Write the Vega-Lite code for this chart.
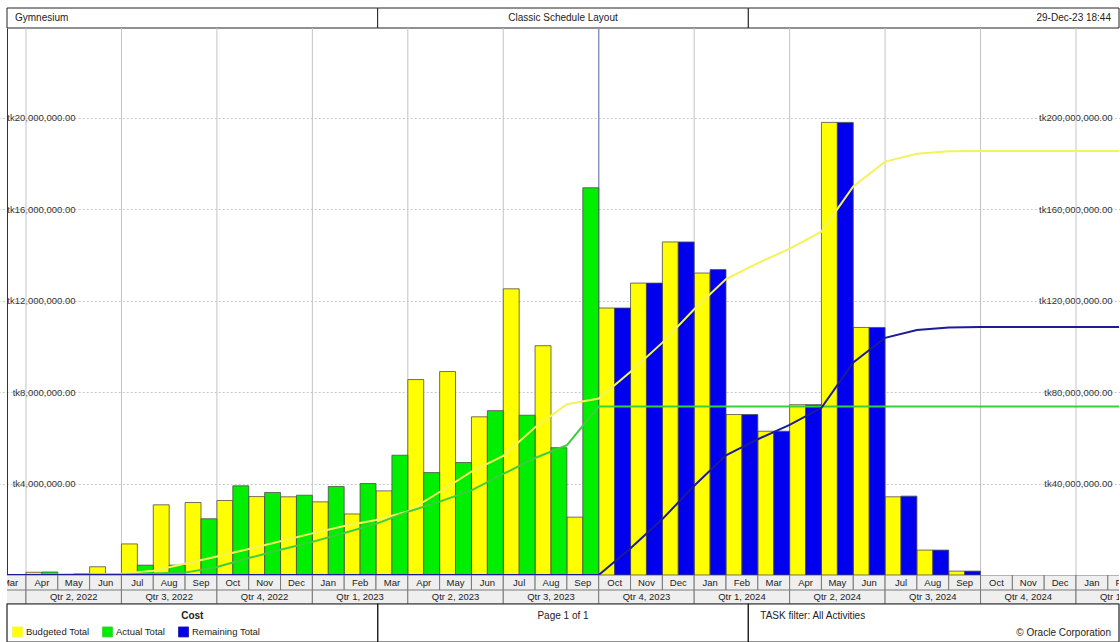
{
  "$schema": "https://vega.github.io/schema/vega-lite/v6.json",
  "padding": {"left": 6, "top": 7, "right": 0, "bottom": 0},
  "spacing": 0,
  "bounds": "flush",
  "config": {"font": "Liberation Sans", "view": {"stroke": null}, "concat": {"spacing": 0}},
  "datasets": {
    "cells": [
      {"pos": "L", "label": "Gymnesium"},
      {"pos": "C", "label": "Classic Schedule Layout"},
      {"pos": "R", "label": "29-Dec-23 18:44"}
    ],
    "footer": [
      {"pos": "L", "line": "1", "label": "Cost"},
      {"pos": "C", "line": "1", "label": "Page 1 of 1"},
      {"pos": "R", "line": "1", "label": "TASK filter: All Activities"},
      {"pos": "R", "line": "2", "label": "© Oracle Corporation"}
    ],
    "months": [
      {"month": "2022-03", "mon": "Mar"}, {"month": "2022-04", "mon": "Apr"}, {"month": "2022-05", "mon": "May"},
      {"month": "2022-06", "mon": "Jun"}, {"month": "2022-07", "mon": "Jul"}, {"month": "2022-08", "mon": "Aug"},
      {"month": "2022-09", "mon": "Sep"}, {"month": "2022-10", "mon": "Oct"}, {"month": "2022-11", "mon": "Nov"},
      {"month": "2022-12", "mon": "Dec"}, {"month": "2023-01", "mon": "Jan"}, {"month": "2023-02", "mon": "Feb"},
      {"month": "2023-03", "mon": "Mar"}, {"month": "2023-04", "mon": "Apr"}, {"month": "2023-05", "mon": "May"},
      {"month": "2023-06", "mon": "Jun"}, {"month": "2023-07", "mon": "Jul"}, {"month": "2023-08", "mon": "Aug"},
      {"month": "2023-09", "mon": "Sep"}, {"month": "2023-10", "mon": "Oct"}, {"month": "2023-11", "mon": "Nov"},
      {"month": "2023-12", "mon": "Dec"}, {"month": "2024-01", "mon": "Jan"}, {"month": "2024-02", "mon": "Feb"},
      {"month": "2024-03", "mon": "Mar"}, {"month": "2024-04", "mon": "Apr"}, {"month": "2024-05", "mon": "May"},
      {"month": "2024-06", "mon": "Jun"}, {"month": "2024-07", "mon": "Jul"}, {"month": "2024-08", "mon": "Aug"},
      {"month": "2024-09", "mon": "Sep"}, {"month": "2024-10", "mon": "Oct"}, {"month": "2024-11", "mon": "Nov"},
      {"month": "2024-12", "mon": "Dec"}, {"month": "2025-01", "mon": "Jan"}, {"month": "2025-02", "mon": "Feb"},
      {"month": "2025-03", "mon": "Mar"}
    ],
    "quarters": [
      {"q": "Qtr 1, 2022"}, {"q": "Qtr 2, 2022"}, {"q": "Qtr 3, 2022"}, {"q": "Qtr 4, 2022"},
      {"q": "Qtr 1, 2023"}, {"q": "Qtr 2, 2023"}, {"q": "Qtr 3, 2023"}, {"q": "Qtr 4, 2023"},
      {"q": "Qtr 1, 2024"}, {"q": "Qtr 2, 2024"}, {"q": "Qtr 3, 2024"}, {"q": "Qtr 4, 2024"},
      {"q": "Qtr 1, 2025"}
    ],
    "bars": [
      {"month": "2022-04", "bar": "Budgeted", "series": "Budgeted Total", "value": 120000},
      {"month": "2022-05", "bar": "Budgeted", "series": "Budgeted Total", "value": 20000},
      {"month": "2022-06", "bar": "Budgeted", "series": "Budgeted Total", "value": 360000},
      {"month": "2022-07", "bar": "Budgeted", "series": "Budgeted Total", "value": 1360000},
      {"month": "2022-08", "bar": "Budgeted", "series": "Budgeted Total", "value": 3070000},
      {"month": "2022-09", "bar": "Budgeted", "series": "Budgeted Total", "value": 3170000},
      {"month": "2022-10", "bar": "Budgeted", "series": "Budgeted Total", "value": 3260000},
      {"month": "2022-11", "bar": "Budgeted", "series": "Budgeted Total", "value": 3430000},
      {"month": "2022-12", "bar": "Budgeted", "series": "Budgeted Total", "value": 3420000},
      {"month": "2023-01", "bar": "Budgeted", "series": "Budgeted Total", "value": 3200000},
      {"month": "2023-02", "bar": "Budgeted", "series": "Budgeted Total", "value": 2670000},
      {"month": "2023-03", "bar": "Budgeted", "series": "Budgeted Total", "value": 3680000},
      {"month": "2023-04", "bar": "Budgeted", "series": "Budgeted Total", "value": 8550000},
      {"month": "2023-05", "bar": "Budgeted", "series": "Budgeted Total", "value": 8900000},
      {"month": "2023-06", "bar": "Budgeted", "series": "Budgeted Total", "value": 6920000},
      {"month": "2023-07", "bar": "Budgeted", "series": "Budgeted Total", "value": 12520000},
      {"month": "2023-08", "bar": "Budgeted", "series": "Budgeted Total", "value": 10030000},
      {"month": "2023-09", "bar": "Budgeted", "series": "Budgeted Total", "value": 2530000},
      {"month": "2023-10", "bar": "Budgeted", "series": "Budgeted Total", "value": 11680000},
      {"month": "2023-11", "bar": "Budgeted", "series": "Budgeted Total", "value": 12770000},
      {"month": "2023-12", "bar": "Budgeted", "series": "Budgeted Total", "value": 14570000},
      {"month": "2024-01", "bar": "Budgeted", "series": "Budgeted Total", "value": 13210000},
      {"month": "2024-02", "bar": "Budgeted", "series": "Budgeted Total", "value": 7020000},
      {"month": "2024-03", "bar": "Budgeted", "series": "Budgeted Total", "value": 6290000},
      {"month": "2024-04", "bar": "Budgeted", "series": "Budgeted Total", "value": 7450000},
      {"month": "2024-05", "bar": "Budgeted", "series": "Budgeted Total", "value": 19800000},
      {"month": "2024-06", "bar": "Budgeted", "series": "Budgeted Total", "value": 10830000},
      {"month": "2024-07", "bar": "Budgeted", "series": "Budgeted Total", "value": 3420000},
      {"month": "2024-08", "bar": "Budgeted", "series": "Budgeted Total", "value": 1090000},
      {"month": "2024-09", "bar": "Budgeted", "series": "Budgeted Total", "value": 170000},
      {"month": "2022-04", "bar": "At Completion", "series": "Actual Total", "value": 130000},
      {"month": "2022-05", "bar": "At Completion", "series": "Actual Total", "value": 50000},
      {"month": "2022-07", "bar": "At Completion", "series": "Actual Total", "value": 430000},
      {"month": "2022-08", "bar": "At Completion", "series": "Actual Total", "value": 430000},
      {"month": "2022-09", "bar": "At Completion", "series": "Actual Total", "value": 2460000},
      {"month": "2022-10", "bar": "At Completion", "series": "Actual Total", "value": 3900000},
      {"month": "2022-11", "bar": "At Completion", "series": "Actual Total", "value": 3610000},
      {"month": "2022-12", "bar": "At Completion", "series": "Actual Total", "value": 3490000},
      {"month": "2023-01", "bar": "At Completion", "series": "Actual Total", "value": 3870000},
      {"month": "2023-02", "bar": "At Completion", "series": "Actual Total", "value": 4000000},
      {"month": "2023-03", "bar": "At Completion", "series": "Actual Total", "value": 5240000},
      {"month": "2023-04", "bar": "At Completion", "series": "Actual Total", "value": 4480000},
      {"month": "2023-05", "bar": "At Completion", "series": "Actual Total", "value": 4920000},
      {"month": "2023-06", "bar": "At Completion", "series": "Actual Total", "value": 7190000},
      {"month": "2023-07", "bar": "At Completion", "series": "Actual Total", "value": 6990000},
      {"month": "2023-08", "bar": "At Completion", "series": "Actual Total", "value": 5570000},
      {"month": "2023-09", "bar": "At Completion", "series": "Actual Total", "value": 16940000},
      {"month": "2023-10", "bar": "At Completion", "series": "Remaining Total", "value": 11680000},
      {"month": "2023-11", "bar": "At Completion", "series": "Remaining Total", "value": 12770000},
      {"month": "2023-12", "bar": "At Completion", "series": "Remaining Total", "value": 14570000},
      {"month": "2024-01", "bar": "At Completion", "series": "Remaining Total", "value": 13360000},
      {"month": "2024-02", "bar": "At Completion", "series": "Remaining Total", "value": 7020000},
      {"month": "2024-03", "bar": "At Completion", "series": "Remaining Total", "value": 6290000},
      {"month": "2024-04", "bar": "At Completion", "series": "Remaining Total", "value": 7450000},
      {"month": "2024-05", "bar": "At Completion", "series": "Remaining Total", "value": 19800000},
      {"month": "2024-06", "bar": "At Completion", "series": "Remaining Total", "value": 10830000},
      {"month": "2024-07", "bar": "At Completion", "series": "Remaining Total", "value": 3450000},
      {"month": "2024-08", "bar": "At Completion", "series": "Remaining Total", "value": 1090000},
      {"month": "2024-09", "bar": "At Completion", "series": "Remaining Total", "value": 170000}
    ],
    "cumulative": [
      {"month": "2022-03", "series": "Budgeted Total", "cum": 0},
      {"month": "2022-04", "series": "Budgeted Total", "cum": 0},
      {"month": "2022-05", "series": "Budgeted Total", "cum": 120000},
      {"month": "2022-06", "series": "Budgeted Total", "cum": 140000},
      {"month": "2022-07", "series": "Budgeted Total", "cum": 500000},
      {"month": "2022-08", "series": "Budgeted Total", "cum": 1860000},
      {"month": "2022-09", "series": "Budgeted Total", "cum": 4930000},
      {"month": "2022-10", "series": "Budgeted Total", "cum": 8100000},
      {"month": "2022-11", "series": "Budgeted Total", "cum": 11360000},
      {"month": "2022-12", "series": "Budgeted Total", "cum": 14790000},
      {"month": "2023-01", "series": "Budgeted Total", "cum": 18210000},
      {"month": "2023-02", "series": "Budgeted Total", "cum": 21410000},
      {"month": "2023-03", "series": "Budgeted Total", "cum": 24080000},
      {"month": "2023-04", "series": "Budgeted Total", "cum": 27760000},
      {"month": "2023-05", "series": "Budgeted Total", "cum": 36310000},
      {"month": "2023-06", "series": "Budgeted Total", "cum": 45210000},
      {"month": "2023-07", "series": "Budgeted Total", "cum": 52130000},
      {"month": "2023-08", "series": "Budgeted Total", "cum": 64650000},
      {"month": "2023-09", "series": "Budgeted Total", "cum": 74680000},
      {"month": "2023-10", "series": "Budgeted Total", "cum": 77210000},
      {"month": "2023-11", "series": "Budgeted Total", "cum": 88890000},
      {"month": "2023-12", "series": "Budgeted Total", "cum": 101660000},
      {"month": "2024-01", "series": "Budgeted Total", "cum": 116230000},
      {"month": "2024-02", "series": "Budgeted Total", "cum": 129440000},
      {"month": "2024-03", "series": "Budgeted Total", "cum": 136460000},
      {"month": "2024-04", "series": "Budgeted Total", "cum": 142750000},
      {"month": "2024-05", "series": "Budgeted Total", "cum": 150200000},
      {"month": "2024-06", "series": "Budgeted Total", "cum": 170000000},
      {"month": "2024-07", "series": "Budgeted Total", "cum": 180830000},
      {"month": "2024-08", "series": "Budgeted Total", "cum": 184250000},
      {"month": "2024-09", "series": "Budgeted Total", "cum": 185340000},
      {"month": "2024-10", "series": "Budgeted Total", "cum": 185510000},
      {"month": "2025-03", "series": "Budgeted Total", "cum": 185510000},
      {"month": "2022-03", "series": "Actual Total", "cum": 0},
      {"month": "2022-04", "series": "Actual Total", "cum": 0},
      {"month": "2022-05", "series": "Actual Total", "cum": 130000},
      {"month": "2022-06", "series": "Actual Total", "cum": 180000},
      {"month": "2022-07", "series": "Actual Total", "cum": 180000},
      {"month": "2022-08", "series": "Actual Total", "cum": 610000},
      {"month": "2022-09", "series": "Actual Total", "cum": 1040000},
      {"month": "2022-10", "series": "Actual Total", "cum": 3500000},
      {"month": "2022-11", "series": "Actual Total", "cum": 7400000},
      {"month": "2022-12", "series": "Actual Total", "cum": 11010000},
      {"month": "2023-01", "series": "Actual Total", "cum": 14500000},
      {"month": "2023-02", "series": "Actual Total", "cum": 18370000},
      {"month": "2023-03", "series": "Actual Total", "cum": 22370000},
      {"month": "2023-04", "series": "Actual Total", "cum": 27610000},
      {"month": "2023-05", "series": "Actual Total", "cum": 32090000},
      {"month": "2023-06", "series": "Actual Total", "cum": 37010000},
      {"month": "2023-07", "series": "Actual Total", "cum": 44200000},
      {"month": "2023-08", "series": "Actual Total", "cum": 51190000},
      {"month": "2023-09", "series": "Actual Total", "cum": 56760000},
      {"month": "2023-10", "series": "Actual Total", "cum": 73700000},
      {"month": "2025-03", "series": "Actual Total", "cum": 73700000},
      {"month": "2022-03", "series": "Remaining Total", "cum": 0},
      {"month": "2023-10", "series": "Remaining Total", "cum": 0},
      {"month": "2023-11", "series": "Remaining Total", "cum": 11680000},
      {"month": "2023-12", "series": "Remaining Total", "cum": 24450000},
      {"month": "2024-01", "series": "Remaining Total", "cum": 39020000},
      {"month": "2024-02", "series": "Remaining Total", "cum": 52380000},
      {"month": "2024-03", "series": "Remaining Total", "cum": 59400000},
      {"month": "2024-04", "series": "Remaining Total", "cum": 65690000},
      {"month": "2024-05", "series": "Remaining Total", "cum": 73140000},
      {"month": "2024-06", "series": "Remaining Total", "cum": 92940000},
      {"month": "2024-07", "series": "Remaining Total", "cum": 103770000},
      {"month": "2024-08", "series": "Remaining Total", "cum": 107220000},
      {"month": "2024-09", "series": "Remaining Total", "cum": 108310000},
      {"month": "2024-10", "series": "Remaining Total", "cum": 108480000},
      {"month": "2025-03", "series": "Remaining Total", "cum": 108480000}
    ]
  },
  "resolve": {"scale": {"x": "independent", "y": "independent", "fill": "independent", "stroke": "independent"}},
  "vconcat": [
    {
      "width": 1112,
      "height": 20,
      "data": {"name": "cells"},
      "layer": [
        {
          "mark": {"type": "rect", "fill": "white", "stroke": "#222222", "strokeWidth": 1},
          "encoding": {"x": {"field": "pos", "type": "nominal", "scale": {"domain": ["L", "C", "R"], "paddingInner": 0, "paddingOuter": 0}, "axis": null}}
        },
        {
          "transform": [{"filter": "datum.pos == 'L'"}],
          "mark": {"type": "text", "align": "left", "dx": 8, "fontSize": 10, "color": "#222222"},
          "encoding": {"x": {"field": "pos", "type": "nominal", "bandPosition": 0, "scale": {"domain": ["L", "C", "R"], "paddingInner": 0, "paddingOuter": 0}, "axis": null}, "text": {"field": "label"}}
        },
        {
          "transform": [{"filter": "datum.pos == 'C'"}],
          "mark": {"type": "text", "align": "center", "fontSize": 10, "color": "#222222"},
          "encoding": {"x": {"field": "pos", "type": "nominal", "bandPosition": 0.5, "scale": {"domain": ["L", "C", "R"], "paddingInner": 0, "paddingOuter": 0}, "axis": null}, "text": {"field": "label"}}
        },
        {
          "transform": [{"filter": "datum.pos == 'R'"}],
          "mark": {"type": "text", "align": "right", "dx": -8, "fontSize": 10, "color": "#222222"},
          "encoding": {"x": {"field": "pos", "type": "nominal", "bandPosition": 1, "scale": {"domain": ["L", "C", "R"], "paddingInner": 0, "paddingOuter": 0}, "axis": null}, "text": {"field": "label"}}
        }
      ]
    },
    {
      "width": 1112,
      "height": 547,
      "resolve": {"scale": {"y": "independent"}},
      "layer": [
        {
          "data": {"name": "months"},
          "transform": [{"filter": "indexof(['Jan','Apr','Jul','Oct'], datum.mon) >= 0 && datum.month != '2023-10'"}],
          "mark": {"type": "rule", "color": "#c4c4c4", "strokeWidth": 1, "clip": true},
          "encoding": {
            "x": {"field": "month", "type": "ordinal", "bandPosition": 0, "axis": null,
                  "scale": {"type": "band", "domain": ["2022-03","2022-04","2022-05","2022-06","2022-07","2022-08","2022-09","2022-10","2022-11","2022-12","2023-01","2023-02","2023-03","2023-04","2023-05","2023-06","2023-07","2023-08","2023-09","2023-10","2023-11","2023-12","2024-01","2024-02","2024-03","2024-04","2024-05","2024-06","2024-07","2024-08","2024-09","2024-10","2024-11","2024-12","2025-01","2025-02","2025-03"], "range": [-12.82, 1164.45], "paddingInner": 0, "paddingOuter": 0}}
          }
        },
        {
          "data": {"name": "months"},
          "transform": [{"filter": "datum.month == '2023-10'"}],
          "mark": {"type": "rule", "color": "#8f8fc0", "strokeWidth": 1.5, "clip": true},
          "encoding": {
            "x": {"field": "month", "type": "ordinal", "bandPosition": 0, "axis": null,
                  "scale": {"type": "band", "domain": ["2022-03","2022-04","2022-05","2022-06","2022-07","2022-08","2022-09","2022-10","2022-11","2022-12","2023-01","2023-02","2023-03","2023-04","2023-05","2023-06","2023-07","2023-08","2023-09","2023-10","2023-11","2023-12","2024-01","2024-02","2024-03","2024-04","2024-05","2024-06","2024-07","2024-08","2024-09","2024-10","2024-11","2024-12","2025-01","2025-02","2025-03"], "range": [-12.82, 1164.45], "paddingInner": 0, "paddingOuter": 0}}
          }
        },
        {
          "data": {"name": "bars"},
          "mark": {"type": "bar", "stroke": "#4d4d4d", "strokeWidth": 0.8, "clip": true},
          "encoding": {
            "x": {"field": "month", "type": "ordinal", "axis": null,
                  "scale": {"type": "band", "domain": ["2022-03","2022-04","2022-05","2022-06","2022-07","2022-08","2022-09","2022-10","2022-11","2022-12","2023-01","2023-02","2023-03","2023-04","2023-05","2023-06","2023-07","2023-08","2023-09","2023-10","2023-11","2023-12","2024-01","2024-02","2024-03","2024-04","2024-05","2024-06","2024-07","2024-08","2024-09","2024-10","2024-11","2024-12","2025-01","2025-02","2025-03"], "range": [-12.82, 1164.45], "paddingInner": 0, "paddingOuter": 0}},
            "xOffset": {"field": "bar", "type": "nominal", "scale": {"domain": ["Budgeted", "At Completion"], "paddingInner": 0, "paddingOuter": 0}},
            "y": {"field": "value", "type": "quantitative", "stack": null,
                  "scale": {"domain": [0, 23930000], "nice": false, "zero": true},
                  "axis": {"orient": "left", "values": [4000000, 8000000, 12000000, 16000000, 20000000], "labelExpr": "'tk' + format(datum.value, ',.2f')", "title": null, "domain": true, "domainColor": "#333333", "ticks": false, "grid": true, "gridDash": [2, 2], "gridColor": "#c8c8c8", "labelAlign": "right", "labelBaseline": "middle", "labelPadding": -68, "labelFontSize": 9.5, "labelColor": "#333333"}},
            "fill": {"field": "series", "type": "nominal",
                     "scale": {"domain": ["Budgeted Total", "Actual Total", "Remaining Total"], "range": ["#ffff00", "#00ee00", "#0000ee"]},
                     "legend": {"orient": "none", "legendX": 5, "legendY": 598, "direction": "horizontal", "title": null, "symbolType": "square", "symbolSize": 100, "symbolStrokeColor": "#333333", "symbolStrokeWidth": 0.8, "symbolOpacity": 1, "labelFontSize": 9.5, "labelColor": "#222222", "columnPadding": 10, "labelOffset": 3}}
          }
        },
        {
          "data": {"name": "cumulative"},
          "mark": {"type": "line", "strokeWidth": 2, "clip": true},
          "encoding": {
            "x": {"field": "month", "type": "ordinal", "bandPosition": 0, "axis": null,
                  "scale": {"type": "band", "domain": ["2022-03","2022-04","2022-05","2022-06","2022-07","2022-08","2022-09","2022-10","2022-11","2022-12","2023-01","2023-02","2023-03","2023-04","2023-05","2023-06","2023-07","2023-08","2023-09","2023-10","2023-11","2023-12","2024-01","2024-02","2024-03","2024-04","2024-05","2024-06","2024-07","2024-08","2024-09","2024-10","2024-11","2024-12","2025-01","2025-02","2025-03"], "range": [-12.82, 1164.45], "paddingInner": 0, "paddingOuter": 0}},
            "y": {"field": "cum", "type": "quantitative",
                  "scale": {"domain": [0, 239300000], "nice": false, "zero": true},
                  "axis": {"orient": "right", "values": [40000000, 80000000, 120000000, 160000000, 200000000], "labelExpr": "'tk' + format(datum.value, ',.2f')", "title": null, "domain": false, "ticks": false, "grid": false, "labelAlign": "right", "labelBaseline": "middle", "labelPadding": -7, "labelFontSize": 9.5, "labelColor": "#333333"}},
            "stroke": {"field": "series", "type": "nominal",
                       "scale": {"domain": ["Budgeted Total", "Actual Total", "Remaining Total"], "range": ["#f3f35c", "#3ccf3c", "#1c1c96"]},
                       "legend": null}
          }
        }
      ]
    },
    {
      "width": 1112,
      "height": 15,
      "data": {"name": "months"},
      "layer": [
        {
          "mark": {"type": "rect", "fill": "#efefef", "stroke": "#7a7a7a", "strokeWidth": 1, "clip": true},
          "encoding": {
            "x": {"field": "month", "type": "ordinal", "axis": null,
                  "scale": {"type": "band", "domain": ["2022-03","2022-04","2022-05","2022-06","2022-07","2022-08","2022-09","2022-10","2022-11","2022-12","2023-01","2023-02","2023-03","2023-04","2023-05","2023-06","2023-07","2023-08","2023-09","2023-10","2023-11","2023-12","2024-01","2024-02","2024-03","2024-04","2024-05","2024-06","2024-07","2024-08","2024-09","2024-10","2024-11","2024-12","2025-01","2025-02","2025-03"], "range": [-12.82, 1164.45], "paddingInner": 0, "paddingOuter": 0}}
          }
        },
        {
          "mark": {"type": "text", "fontSize": 9.5, "color": "#222222", "baseline": "middle", "clip": true},
          "encoding": {
            "x": {"field": "month", "type": "ordinal", "axis": null,
                  "scale": {"type": "band", "domain": ["2022-03","2022-04","2022-05","2022-06","2022-07","2022-08","2022-09","2022-10","2022-11","2022-12","2023-01","2023-02","2023-03","2023-04","2023-05","2023-06","2023-07","2023-08","2023-09","2023-10","2023-11","2023-12","2024-01","2024-02","2024-03","2024-04","2024-05","2024-06","2024-07","2024-08","2024-09","2024-10","2024-11","2024-12","2025-01","2025-02","2025-03"], "range": [-12.82, 1164.45], "paddingInner": 0, "paddingOuter": 0}},
            "text": {"field": "mon"}
          }
        }
      ]
    },
    {
      "width": 1112,
      "height": 14,
      "data": {"name": "quarters"},
      "layer": [
        {
          "mark": {"type": "rect", "fill": "#efefef", "stroke": "#7a7a7a", "strokeWidth": 1, "clip": true},
          "encoding": {
            "x": {"field": "q", "type": "ordinal", "sort": null, "axis": null,
                  "scale": {"type": "band", "domain": ["Qtr 1, 2022","Qtr 2, 2022","Qtr 3, 2022","Qtr 4, 2022","Qtr 1, 2023","Qtr 2, 2023","Qtr 3, 2023","Qtr 4, 2023","Qtr 1, 2024","Qtr 2, 2024","Qtr 3, 2024","Qtr 4, 2024","Qtr 1, 2025"], "range": [-76.46, 1164.45], "paddingInner": 0, "paddingOuter": 0}}
          }
        },
        {
          "mark": {"type": "text", "fontSize": 9.5, "color": "#222222", "baseline": "middle", "clip": true},
          "encoding": {
            "x": {"field": "q", "type": "ordinal", "sort": null, "axis": null,
                  "scale": {"type": "band", "domain": ["Qtr 1, 2022","Qtr 2, 2022","Qtr 3, 2022","Qtr 4, 2022","Qtr 1, 2023","Qtr 2, 2023","Qtr 3, 2023","Qtr 4, 2023","Qtr 1, 2024","Qtr 2, 2024","Qtr 3, 2024","Qtr 4, 2024","Qtr 1, 2025"], "range": [-76.46, 1164.45], "paddingInner": 0, "paddingOuter": 0}},
            "text": {"field": "q"}
          }
        }
      ]
    },
    {
      "width": 1112,
      "height": 38,
      "layer": [
        {
          "data": {"name": "cells"},
          "mark": {"type": "rect", "fill": "transparent", "stroke": "#222222", "strokeWidth": 1.2},
          "encoding": {"x": {"field": "pos", "type": "nominal", "scale": {"domain": ["L", "C", "R"], "paddingInner": 0, "paddingOuter": 0}, "axis": null}}
        },
        {
          "data": {"name": "footer"},
          "transform": [{"filter": "datum.pos == 'L'"}],
          "mark": {"type": "text", "align": "center", "fontSize": 10, "fontWeight": "bold", "color": "#222222"},
          "encoding": {
            "x": {"field": "pos", "type": "nominal", "bandPosition": 0.5, "scale": {"domain": ["L", "C", "R"], "paddingInner": 0, "paddingOuter": 0}, "axis": null},
            "y": {"field": "line", "type": "nominal", "scale": {"domain": ["1", "2"], "range": [3, 38], "paddingInner": 0, "paddingOuter": 0}, "axis": null},
            "text": {"field": "label"}
          }
        },
        {
          "data": {"name": "footer"},
          "transform": [{"filter": "datum.pos == 'C'"}],
          "mark": {"type": "text", "align": "center", "fontSize": 10, "color": "#222222"},
          "encoding": {
            "x": {"field": "pos", "type": "nominal", "bandPosition": 0.5, "scale": {"domain": ["L", "C", "R"], "paddingInner": 0, "paddingOuter": 0}, "axis": null},
            "y": {"field": "line", "type": "nominal", "scale": {"domain": ["1", "2"], "range": [3, 38], "paddingInner": 0, "paddingOuter": 0}, "axis": null},
            "text": {"field": "label"}
          }
        },
        {
          "data": {"name": "footer"},
          "transform": [{"filter": "datum.pos == 'R' && datum.line == '1'"}],
          "mark": {"type": "text", "align": "left", "dx": 12, "fontSize": 10, "color": "#222222"},
          "encoding": {
            "x": {"field": "pos", "type": "nominal", "bandPosition": 0, "scale": {"domain": ["L", "C", "R"], "paddingInner": 0, "paddingOuter": 0}, "axis": null},
            "y": {"field": "line", "type": "nominal", "scale": {"domain": ["1", "2"], "range": [3, 38], "paddingInner": 0, "paddingOuter": 0}, "axis": null},
            "text": {"field": "label"}
          }
        },
        {
          "data": {"name": "footer"},
          "transform": [{"filter": "datum.pos == 'R' && datum.line == '2'"}],
          "mark": {"type": "text", "align": "right", "dx": -8, "fontSize": 10, "color": "#222222"},
          "encoding": {
            "x": {"field": "pos", "type": "nominal", "bandPosition": 1, "scale": {"domain": ["L", "C", "R"], "paddingInner": 0, "paddingOuter": 0}, "axis": null},
            "y": {"field": "line", "type": "nominal", "scale": {"domain": ["1", "2"], "range": [3, 38], "paddingInner": 0, "paddingOuter": 0}, "axis": null},
            "text": {"field": "label"}
          }
        }
      ]
    }
  ]
}
